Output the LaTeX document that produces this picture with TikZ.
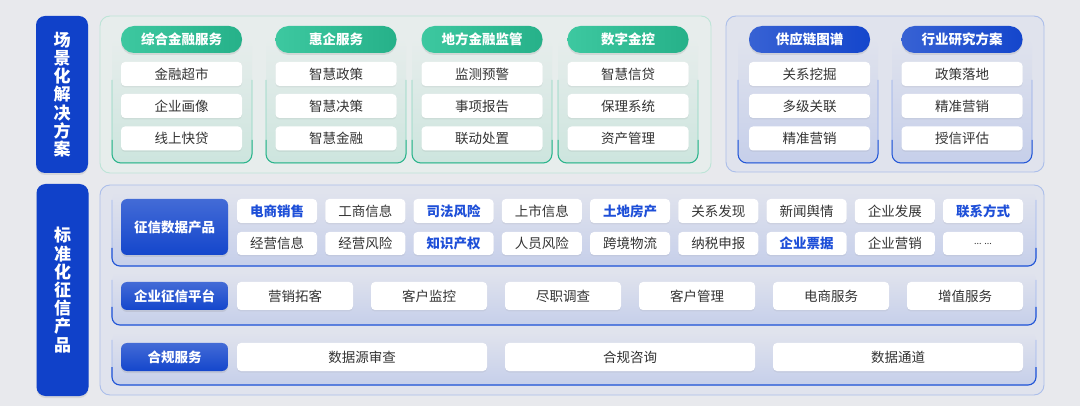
\documentclass[tikz,border=0pt]{standalone}
\usepackage{fontspec}
\setmainfont{Noto Sans CJK SC}
\usetikzlibrary{shadows}
\definecolor{bg}{HTML}{E8E9ED}
\definecolor{grnBorder}{HTML}{BDE4D7}
\definecolor{grnPanel}{HTML}{E7EDEC}
\definecolor{grnGroupBot}{HTML}{CDE5DE}
\definecolor{grnLine}{HTML}{2DB48C}
\definecolor{grnHeadA}{HTML}{3DC8A0}
\definecolor{grnHeadB}{HTML}{26B189}
\definecolor{bluBorder}{HTML}{ABBEEA}
\definecolor{bluPanel}{HTML}{E0E3ED}
\definecolor{bluGroupBot}{HTML}{C6CFEA}
\definecolor{bluLine}{HTML}{2457D6}
\definecolor{bluHead}{HTML}{1446CC}
\definecolor{bluLabel}{HTML}{1041C9}
\definecolor{txtGray}{HTML}{333333}
\definecolor{txtBlue}{HTML}{1E4FD8}
\tikzset{
  x=1pt, y=-1pt,
  itembox/.style={fill=white, rounded corners=4pt, inner sep=0pt, text=txtGray,
    font=\fontsize{13.5}{15}\selectfont,
    drop shadow={opacity=0.10, shadow xshift=0pt, shadow yshift=-1.5pt}},
  hiitem/.style={itembox, text=txtBlue, font=\fontsize{13.5}{15}\selectfont\bfseries},
  grnhead/.style={rounded corners=13pt, inner sep=0pt, left color=grnHeadA, right color=grnHeadB,
    text=white, font=\fontsize{13.5}{15}\selectfont\bfseries, minimum width=121pt, minimum height=27pt,
    drop shadow={opacity=0.18, shadow xshift=0pt, shadow yshift=-2pt}},
  bluhead/.style={grnhead, left color=bluHead!85!white, right color=bluHead},
  rowlabel/.style={rounded corners=6pt, inner sep=0pt, top color=bluHead!80!white, bottom color=bluHead,
    text=white, font=\fontsize{13.5}{15}\selectfont\bfseries, minimum width=107pt,
    drop shadow={opacity=0.18, shadow xshift=0pt, shadow yshift=-2pt}},
  sidelabel/.style={rounded corners=9pt, inner sep=0pt, fill=bluLabel, text=white,
    font=\fontsize{17}{18.2}\selectfont\bfseries, align=center, minimum width=52pt,
    drop shadow={opacity=0.18, shadow xshift=0pt, shadow yshift=-2pt}},
  panelbox/.style={rounded corners=10pt, line width=0.9pt},
}
\begin{document}
\begin{tikzpicture}
\fill[bg] (0,0) rectangle (1080,406);
\useasboundingbox (0,0) rectangle (1080,406);

% side labels
\node[sidelabel, minimum height=157pt] (lblTop) at (62,94.5) {场\\景\\化\\解\\决\\方\\案};
\node[sidelabel, minimum height=212pt] (lblBot) at (62.5,290) {标\\准\\化\\征\\信\\产\\品};

% top green panel
\draw[panelbox, draw=grnBorder, fill=grnPanel] (100,16) rectangle (711,173);
% top blue panel
\draw[panelbox, draw=bluBorder, fill=bluPanel] (726,16) rectangle (1044,172);

% groups (green)
\foreach \cx/\nm in {182/ga,336/gb,482/gc,628/gd}{
  \shade[top color=grnPanel, bottom color=grnGroupBot, rounded corners=9pt] (\cx-70,38) rectangle (\cx+70,163);
  \draw[grnLine!55, line width=0.8pt, rounded corners=9pt] (\cx-70,80) -- (\cx-70,163) -- (\cx+70,163) -- (\cx+70,80);
  \draw[grnLine, line width=1pt, rounded corners=9pt] (\cx-70,140) -- (\cx-70,163) -- (\cx+70,163) -- (\cx+70,140);
}
% groups (blue)
\foreach \cx/\nm in {808/gbA,962/gbB}{
  \shade[top color=bluPanel, bottom color=bluGroupBot, rounded corners=9pt] (\cx-70,38) rectangle (\cx+70,163);
  \draw[bluLine!50, line width=0.8pt, rounded corners=9pt] (\cx-70,80) -- (\cx-70,163) -- (\cx+70,163) -- (\cx+70,80);
  \draw[bluLine, line width=1pt, rounded corners=9pt] (\cx-70,140) -- (\cx-70,163) -- (\cx+70,163) -- (\cx+70,140);
}

% green headers and items
\node[grnhead] (h1) at (181.5,39.5) {综合金融服务};
\node[grnhead] (h2) at (336,39.5) {惠企服务};
\node[grnhead] (h3) at (482,39.5) {地方金融监管};
\node[grnhead] (h4) at (628,39.5) {数字金控};
\node[bluhead] (h5) at (809.5,39.5) {供应链图谱};
\node[bluhead] (h6) at (962,39.5) {行业研究方案};

\foreach \cx/\a/\b/\c/\nm in {181.5/金融超市/企业画像/线上快贷/a, 336/智慧政策/智慧决策/智慧金融/b, 482/监测预警/事项报告/联动处置/c, 628/智慧信贷/保理系统/资产管理/d, 809.5/关系挖掘/多级关联/精准营销/e, 962/政策落地/精准营销/授信评估/f}{
  \node[itembox, minimum width=121pt, minimum height=24pt] (t\nm1) at (\cx,74) {\a};
  \node[itembox, minimum width=121pt, minimum height=24pt] (t\nm2) at (\cx,106) {\b};
  \node[itembox, minimum width=121pt, minimum height=24pt] (t\nm3) at (\cx,138.5) {\c};
}

% bottom panel
\draw[panelbox, draw=bluBorder, fill=bluPanel] (100,185) rectangle (1044,395);
% sub-panels
\foreach \ya/\yb in {192/266, 272/325, 332/385}{
  \shade[top color=bluPanel, bottom color=bluGroupBot, rounded corners=8pt] (112,\ya) rectangle (1036,\yb);
  \draw[bluLine!45, line width=0.8pt, rounded corners=8pt] (112,\ya+8) -- (112,\yb) -- (1036,\yb) -- (1036,\ya+8);
  \draw[bluLine, line width=1.1pt, rounded corners=8pt] (112,\yb-18) -- (112,\yb) -- (1036,\yb) -- (1036,\yb-18);
}

% row labels
\node[rowlabel, minimum height=56pt] (r1) at (174.5,227) {征信数据产品};
\node[rowlabel, minimum height=28pt] (r2) at (174.5,296) {企业征信平台};
\node[rowlabel, minimum height=28pt] (r3) at (174.5,357) {合规服务};

% row 1 items
\foreach \i/\t/\s in {0/电商销售/hiitem,1/工商信息/itembox,2/司法风险/hiitem,3/上市信息/itembox,4/土地房产/hiitem,5/关系发现/itembox,6/新闻舆情/itembox,7/企业发展/itembox,8/联系方式/hiitem}{
  \node[\s, minimum width=80pt, minimum height=24pt] (pa\i) at (277+\i*88.25,211) {\t};
}
\foreach \i/\t/\s in {0/经营信息/itembox,1/经营风险/itembox,2/知识产权/hiitem,3/人员风险/itembox,4/跨境物流/itembox,5/纳税申报/itembox,6/企业票据/hiitem,7/企业营销/itembox,8/{\fontsize{9}{10}\selectfont\raisebox{-1pt}{... ...}}/itembox}{
  \node[\s, minimum width=80pt, minimum height=23pt] (pb\i) at (277+\i*88.25,243.5) {\t};
}
% row 2 items
\foreach \i/\t in {0/营销拓客,1/客户监控,2/尽职调查,3/客户管理,4/电商服务,5/增值服务}{
  \node[itembox, minimum width=116pt, minimum height=28pt] (pc\i) at (295+\i*134,296) {\t};
}
% row 3 items
\foreach \i/\t in {0/数据源审查,1/合规咨询,2/数据通道}{
  \node[itembox, minimum width=250pt, minimum height=28pt] (pd\i) at (362+\i*268,357) {\t};
}
\end{tikzpicture}
\end{document}
